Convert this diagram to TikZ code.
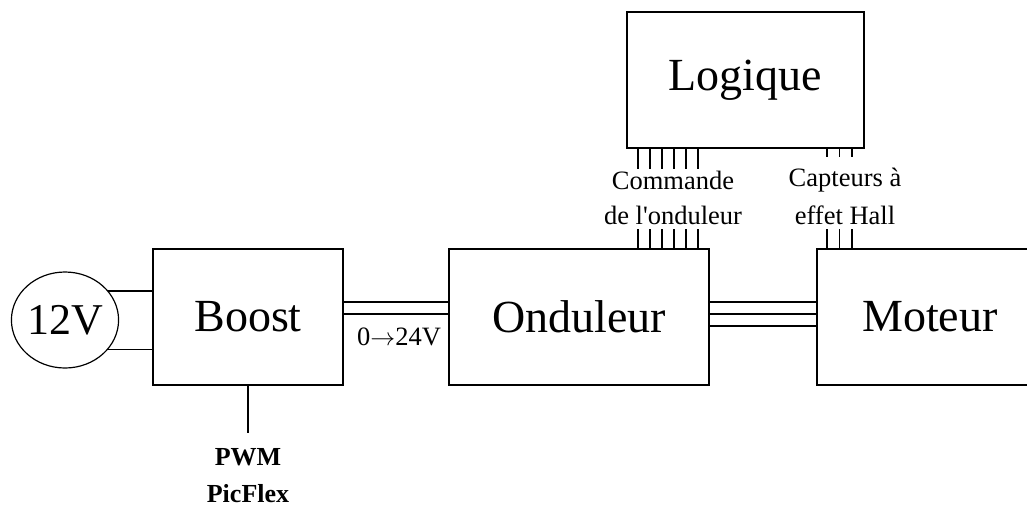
\documentclass[tikz,border=0pt]{standalone}
\usepackage{fontspec}
\setmainfont{Liberation Serif}
\usetikzlibrary{shapes.geometric}
\tikzset{
  blk/.style={draw, line width=1.4pt, rectangle, inner sep=0pt, font=\fontsize{46}{50}\selectfont},
  wire/.style={line width=1.4pt},
  small/.style={font=\fontsize{26.5}{30}\selectfont, inner sep=0pt},
}
\begin{document}
\begin{tikzpicture}[x=1pt,y=-1pt]
\useasboundingbox (0,0) rectangle (1027,507);
\clip (0,0) rectangle (1027,507);
% blocks
\node[draw, line width=1.2pt, ellipse, minimum width=106pt, minimum height=96pt, inner sep=0pt, font=\fontsize{44}{48}\selectfont] (v12) at (65,320) {12V};
\node[blk, minimum width=190pt, minimum height=136pt] (boost) at (248,317) {Boost};
\node[blk, minimum width=260pt, minimum height=136pt] (ond) at (579,317) {Onduleur};
\node[blk, minimum width=226pt, minimum height=136pt] (mot) at (930,317) {Moteur};
\node[blk, minimum width=237pt, minimum height=136pt] (log) at (745.5,80) {Logique};
% 12V to Boost
\draw[wire] (v12.34.5) -- (v12.34.5 -| boost.west);
\draw[wire] (v12.-34.5) -- (v12.-34.5 -| boost.west);
% Boost to Onduleur
\draw[wire] ([yshift=15pt]boost.east) -- ([yshift=15pt]ond.west);
\draw[wire] ([yshift=3pt]boost.east) -- ([yshift=3pt]ond.west);
\node[small] (v24) at (399,337) {0$\rightarrow$24V};
% Onduleur to Moteur
\draw[wire] ([yshift=15pt]ond.east) -- ([yshift=15pt]mot.west);
\draw[wire] ([yshift=3pt]ond.east) -- ([yshift=3pt]mot.west);
\draw[wire] ([yshift=-9pt]ond.east) -- ([yshift=-9pt]mot.west);
% PWM
\coordinate (pwmend) at (248,433);
\draw[wire] (boost.south) -- (pwmend);
\node[font=\fontsize{26}{37}\bfseries\selectfont, align=center, inner sep=0pt] (pwm) at (248,476) {PWM\\PicFlex};
% pins Logique <-> Onduleur (commande)
\foreach \x in {638,650,662,674,686,698}{
  \draw[wire] (log.south -| \x,0) -- ++(0,20);
  \draw[wire] (ond.north -| \x,0) -- ++(0,-19);
}
% pins Hall
\foreach \x in {827,839.5,852}{
  \draw[wire] (log.south -| \x,0) -- ++(0,8);
  \draw[wire] (mot.north -| \x,0) -- ++(0,-19);
}
\node[small] (cmd1) at (673,180) {Commande};
\node[small] (cmd2) at (673,215) {de l\textquotesingle onduleur};
\node[small] (hall1) at (845,180) {Capteurs à};
\node[small] (hall2) at (845,215) {effet Hall};
\end{tikzpicture}
\end{document}
